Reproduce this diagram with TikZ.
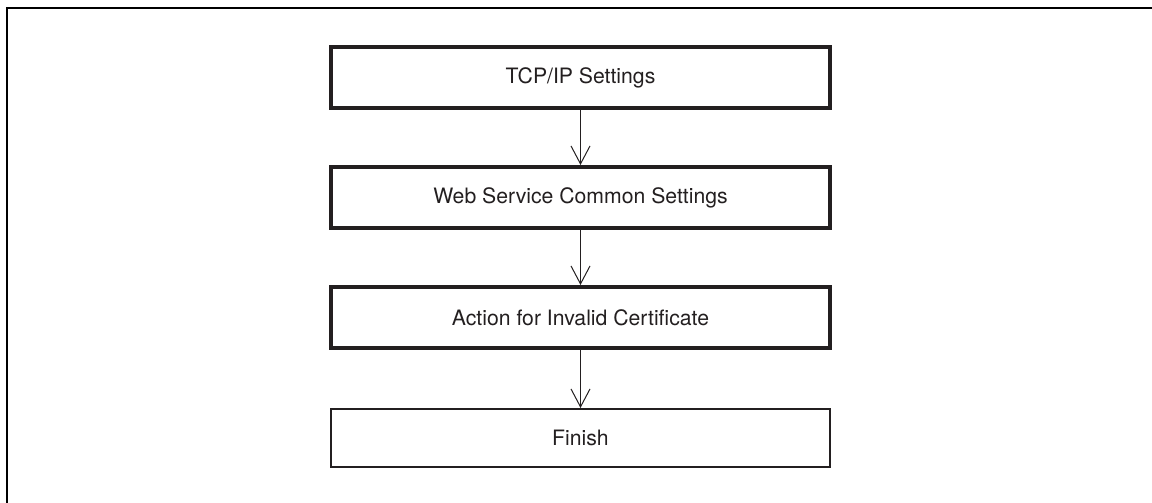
\documentclass[tikz,border=0pt]{standalone}
\usepackage{fontspec}
\setmainfont{TeX Gyre Heros}
\usepackage{xcolor}
\usetikzlibrary{arrows.meta, positioning}
\definecolor{ink}{RGB}{35,31,32}

\begin{document}
\begin{tikzpicture}[x=0.5pt, y=-0.5pt, >={Straight Barb[length=9pt, width=9.5pt]},
    font=\fontsize{10.6}{13}\selectfont, node distance=27.5pt,
    stepbox/.style={draw=ink, text=ink, line width=2pt, minimum width=249.5pt, minimum height=30.5pt},
    endbox/.style={draw=ink, text=ink, line width=0.75pt, minimum width=249.5pt, minimum height=29pt},
    flow/.style={->, draw=ink, line width=0.5pt}]
    \useasboundingbox (0,0) rectangle (1152,503);
    % page frame (top and left edges only)
    \draw[line width=1pt] (7,503) -- (7,8) -- (1152,8);

    \node[stepbox] (tcp) at (580.5,77.5) {TCP/IP Settings};
    \node[stepbox, below=of tcp] (web) {Web Service Common Settings};
    \node[stepbox, below=of web] (cert) {Action for Invalid Certificate};
    \node[endbox, below=29pt of cert] (fin) {Finish};

    \draw[flow] (tcp) -- (web);
    \draw[flow] (web) -- (cert);
    \draw[flow] (cert) -- (fin);
\end{tikzpicture}
\end{document}
